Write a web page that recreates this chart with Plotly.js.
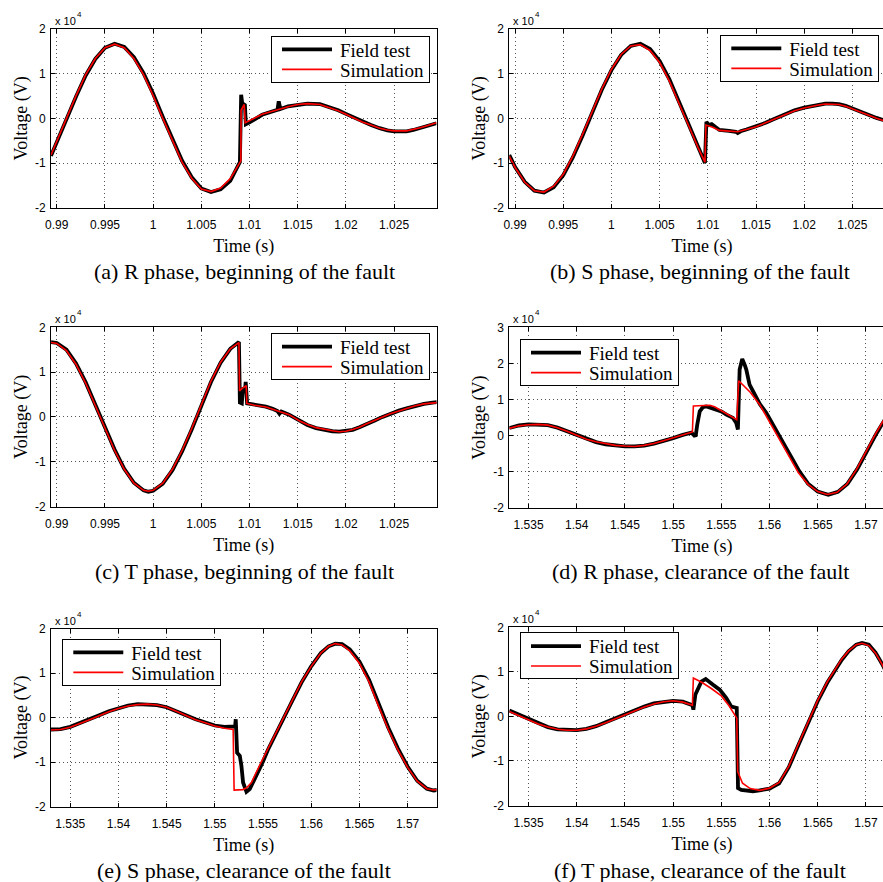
<!DOCTYPE html>
<html>
<head>
<meta charset="utf-8">
<script src="https://cdn.plot.ly/plotly-3.0.1.min.js"></script>
<style>
html, body { margin: 0; padding: 0; overflow: hidden; background: #fff; }
#chart { width: 900px; height: 882px; }
</style>
</head>
<body>
<div id="chart"></div>
<script>
// ---------------- DATA (time in s, voltage in V) ----------------
// (a) R phase, beginning of the fault
const timeFieldA = [0.9894,0.990,0.991,0.992,0.993,0.994,0.995,0.996,0.997,0.998,0.999,1.000,1.001,1.002,1.003,1.004,1.005,1.006,1.007,1.008,
  1.0090,1.00913,1.0093,1.00945,1.00952,1.00962,1.0100,1.0113,1.0122,1.0129,1.01303,1.0132,1.0140,1.0150,1.0160,1.0173,1.0183,1.0192,1.0200,1.0208,1.0217,1.0226,1.0235,1.0243,1.0250,1.0263,1.0270,1.0277,1.0285,1.0294];
const voltFieldA = [-8400,-5300,-300,4900,9600,13300,15800,16700,16000,13700,10100,5500,300,-4800,-9500,-13200,-15700,-16500,-15900,-14000,
  -9800,5300,2300,3100,3000,-1300,-900,800,1500,1900,3800,2100,2700,3100,3300,3200,2500,1800,1000,200,-700,-1500,-2200,-2700,-2900,-2900,-2600,-2100,-1600,-1100];
const timeSimA = [0.9894,0.990,0.991,0.992,0.993,0.994,0.995,0.996,0.997,0.998,0.999,1.000,1.001,1.002,1.003,1.004,1.005,1.006,1.007,1.008,
  1.0091,1.00912,1.00945,1.00955,1.0100,1.0113,1.0122,1.0131,1.0140,1.0150,1.0160,1.0173,1.0183,1.0192,1.0200,1.0208,1.0217,1.0226,1.0235,1.0243,1.0250,1.0263,1.0270,1.0277,1.0285,1.0294];
const voltSimA = [-8200,-5100,0,5100,9800,13400,15800,16600,15800,13400,9800,5100,0,-5100,-9800,-13400,-15800,-16400,-15600,-13500,
  -9500,1800,3100,-1000,-500,900,1500,2100,2600,3100,3300,3100,2400,1700,900,100,-800,-1500,-2200,-2600,-2800,-2800,-2500,-2100,-1600,-1000];

// (b) S phase, beginning of the fault
const timeFieldB = [0.9894,0.990,0.991,0.992,0.993,0.994,0.995,0.996,0.997,0.998,0.999,1.000,1.001,1.002,1.003,1.004,1.005,1.006,1.007,1.008,1.009,1.0097,
  1.00985,1.0101,1.0104,1.0108,1.0112,1.0122,1.0129,1.0131,1.0134,1.0140,1.0150,1.0160,1.0167,1.0174,1.0181,1.0190,1.0200,1.0208,1.0215,1.0222,1.0229,1.0236,1.0243,1.0250,1.0257,1.0263,1.0269,1.0275,1.0281,1.0294];
const voltFieldB = [-8200,-10900,-14200,-16200,-16600,-15400,-12700,-8700,-3900,1300,6400,10800,14200,16200,16700,15500,12800,8800,4000,-1300,-6400,-10000,
  -800,-1500,-1300,-2000,-2600,-2800,-3000,-3300,-2900,-2500,-1800,-1000,-300,300,1000,1800,2400,2800,3100,3300,3300,3200,2800,2200,1500,1000,600,100,-300,-1100];
const timeSimB = [0.9894,0.990,0.991,0.992,0.993,0.994,0.995,0.996,0.997,0.998,0.999,1.000,1.001,1.002,1.003,1.004,1.005,1.006,1.007,1.008,1.009,1.0097,
  1.0098,1.0105,1.0112,1.0122,1.0131,1.0140,1.0150,1.0160,1.0167,1.0174,1.0181,1.0190,1.0200,1.0208,1.0215,1.0222,1.0229,1.0236,1.0243,1.0250,1.0257,1.0263,1.0269,1.0275,1.0281,1.0294];
const voltSimB = [-8500,-11000,-14300,-16200,-16500,-15200,-12500,-8400,-3600,1600,6600,11000,14300,16200,16500,15200,12500,8400,3600,-1600,-6600,-9800,
  -1500,-2000,-2700,-2900,-3000,-2500,-1900,-1000,-400,300,900,1700,2300,2700,3000,3200,3200,3100,2700,2100,1400,900,500,0,-400,-1200];

// (c) T phase, beginning of the fault
const timeFieldC = [0.9894,0.990,0.991,0.992,0.993,0.994,0.995,0.996,0.997,0.998,0.999,0.9995,1.000,1.001,1.002,1.003,1.004,1.005,1.006,1.007,1.008,1.0089,
  1.0090,1.0092,1.0093,1.00955,1.0096,1.00975,1.0100,1.0105,1.0117,1.0124,1.0129,1.0131,1.0133,1.0141,1.0152,1.0160,1.0169,1.0177,1.0186,1.0193,1.0200,1.0207,1.0214,1.0221,1.0230,1.0238,1.0246,1.0255,1.0263,1.0272,1.0281,1.0290,1.0295];
const voltFieldC = [16700,16500,15000,11900,7700,2800,-2400,-7300,-11600,-14700,-16400,-16700,-16500,-14900,-11900,-7700,-2800,2400,7800,12100,15200,16700,
  3200,3000,6200,6500,7800,3000,2900,2700,2300,1800,1300,700,1200,500,-900,-1800,-2500,-2900,-3200,-3300,-3200,-2900,-2300,-1700,-800,0,700,1400,1900,2500,2900,3200,3300];
const timeSimC = [0.9894,0.990,0.991,0.992,0.993,0.994,0.995,0.996,0.997,0.998,0.999,0.9995,1.000,1.001,1.002,1.003,1.004,1.005,1.006,1.007,1.008,1.0089,
  1.00897,1.0092,1.00966,1.00972,1.0105,1.0117,1.0124,1.0131,1.0141,1.0152,1.0160,1.0169,1.0177,1.0186,1.0193,1.0200,1.0207,1.0214,1.0221,1.0230,1.0238,1.0246,1.0255,1.0263,1.0272,1.0281,1.0290,1.0295];
const voltSimC = [16600,16400,14800,11700,7500,2600,-2600,-7500,-11700,-14800,-16400,-16600,-16400,-14800,-11700,-7500,-2600,2600,8000,12200,15200,16600,
  5800,6300,7000,3000,2600,2200,1700,1200,500,-900,-1700,-2400,-2800,-3100,-3300,-3200,-2800,-2300,-1600,-800,0,700,1300,1900,2500,2900,3200,3200];

// (d) R phase, clearance of the fault
const timeFieldD = [1.5330,1.5340,1.5350,1.5360,1.5370,1.5380,1.5390,1.5400,1.5410,1.5420,1.5430,1.5440,1.5450,1.5460,1.5470,1.5480,1.5490,1.5500,1.5510,1.5519,
  1.5522,1.55235,1.5525,1.55276,1.5531,1.55345,1.5540,1.55448,1.5550,1.55552,1.5559,1.55621,1.55655,1.55672,1.5569,1.55717,1.55741,1.55759,1.55793,1.5585,1.5590,1.55966,1.5605,1.56138,1.5620,1.5631,
  1.5640,1.5650,1.5661,1.5671,1.5681,1.5691,1.5701,1.5711,1.5721,1.5731];
const voltFieldD = [2100,2800,3100,3100,2900,2200,1200,0,-1000,-1800,-2400,-2800,-3000,-3000,-2800,-2200,-1500,-700,200,800,
  0,100,3000,6700,7900,8100,7600,7200,6700,5800,5200,4900,3500,1700,18300,21200,19700,18300,14100,11000,8700,6300,2500,-1600,-4700,-9900,
  -13300,-15500,-16400,-15600,-13300,-9300,-4300,600,5000,9000];
const timeSimD = [1.5330,1.5340,1.5350,1.5360,1.5370,1.5380,1.5390,1.5400,1.5410,1.5420,1.5430,1.5440,1.5450,1.5460,1.5470,1.5480,1.5490,1.5500,1.5510,1.5520,
  1.5521,1.5530,1.5538,1.5543,1.5550,1.5558,1.5566,1.5568,1.5572,1.5580,1.5590,1.5600,1.5610,1.5620,1.5630,1.5640,1.5650,1.5660,1.5670,1.5680,1.5690,1.5700,1.5710,1.5720,1.5730];
const voltSimD = [2000,2700,3000,3100,2900,2200,1200,0,-1000,-1700,-2300,-2700,-2900,-3000,-2700,-2200,-1400,-600,300,1000,
  8200,8400,8400,8000,6900,5600,4400,15200,14200,12000,8500,3800,-800,-5500,-10300,-13500,-15500,-16300,-15700,-13500,-9500,-4500,500,5000,9000];

// (e) S phase, clearance of the fault
const timeFieldE = [1.5330,1.5340,1.5350,1.5360,1.5370,1.5380,1.5390,1.5400,1.5410,1.5420,1.5430,1.5440,1.5450,1.5460,1.5470,1.5480,1.5490,1.5500,1.5510,1.5519,
  1.5521,1.55217,1.55231,1.55259,1.55276,1.55293,1.55328,1.55362,1.55431,
  1.5550,1.5555,1.5563,1.5571,1.5580,1.5590,1.5600,1.5610,1.5618,1.5625,1.5632,1.5640,1.5650,1.5660,1.5670,1.5680,1.5690,1.5700,1.5710,1.5720,1.5727,1.5737];
const voltFieldE = [-2700,-2600,-2100,-1300,-400,500,1400,2100,2700,3000,3000,2800,2300,1500,500,-400,-1100,-1800,-2100,-2100,
  -2000,-400,-7900,-8600,-10900,-14600,-16700,-16100,-13100,
  -9900,-7300,-3700,-300,3600,7900,11500,14500,16000,16600,16500,15300,12600,8500,3000,-2300,-7000,-11000,-14200,-16000,-16400,-16100];
const timeSimE = [1.5330,1.5340,1.5350,1.5360,1.5370,1.5380,1.5390,1.5400,1.5410,1.5420,1.5430,1.5440,1.5450,1.5460,1.5470,1.5480,1.5490,1.5500,1.5510,1.5519,
  1.5520,1.5529,1.5533,1.5538,1.5547,1.5555,1.5563,1.5571,1.5580,1.5590,1.5600,1.5610,1.5618,1.5625,1.5632,1.5640,1.5650,1.5660,1.5670,1.5680,1.5690,1.5700,1.5710,1.5720,1.5727,1.5737];
const voltSimE = [-2800,-2700,-2200,-1400,-500,400,1300,2000,2600,2900,3000,2800,2300,1400,400,-500,-1200,-1900,-2400,-2700,
  -16300,-16200,-15800,-14600,-10500,-7100,-3600,-200,3700,8000,11500,14500,16000,16600,16300,15000,12200,8000,2500,-2700,-7300,-11200,-14300,-16000,-16300,-16000];

// (f) T phase, clearance of the fault
const timeFieldF = [1.5330,1.5340,1.5350,1.5360,1.5370,1.5380,1.5390,1.5400,1.5410,1.5420,1.5430,1.5440,1.5450,1.5460,1.5470,1.5480,1.5490,1.5500,1.5510,1.5520,
  1.5521,1.55231,1.55293,1.55338,1.55414,1.55483,1.55552,1.55604,1.5566,1.55673,1.55707,1.55759,1.55828,1.55897,
  1.5600,1.5610,1.5620,1.5630,1.5640,1.5650,1.5660,1.5667,1.5675,1.5682,1.5690,1.5696,1.5703,1.5710,1.5717,1.5730];
const voltFieldF = [1300,400,-700,-1600,-2400,-2900,-3100,-3100,-2800,-2200,-1300,-400,500,1400,2200,2900,3300,3500,3300,2500,
  1500,4900,7800,8400,7100,6000,4100,2200,1900,-16100,-16500,-16600,-16800,-16600,
  -16200,-15000,-11400,-6400,-1400,3400,7600,10000,12700,14600,16100,16500,16100,14300,11700,6000];
const timeSimF = [1.5330,1.5340,1.5350,1.5360,1.5370,1.5380,1.5390,1.5400,1.5410,1.5420,1.5430,1.5440,1.5450,1.5460,1.5470,1.5480,1.5490,1.5500,1.5510,1.5520,
  1.5521,1.5530,1.5540,1.5550,1.5558,1.5566,1.5567,1.5572,1.5580,1.5590,1.5600,1.5610,1.5620,1.5630,
  1.5640,1.5650,1.5660,1.5667,1.5675,1.5682,1.5690,1.5696,1.5703,1.5710,1.5717,1.5730];
const voltSimF = [1100,200,-800,-1700,-2400,-2900,-3100,-3100,-2800,-2200,-1400,-500,400,1300,2100,2800,3300,3500,3200,2500,
  8600,7600,6200,4600,2400,-400,-12400,-15000,-16200,-16600,-16100,-14800,-11200,-6200,
  -1200,3600,7800,10200,12900,14700,16100,16400,15900,14200,11600,5800];

// tick labels
const timeTicksBegin = [0.99, 0.995, 1, 1.005, 1.01, 1.015, 1.02, 1.025];
const timeLabelsBegin = ['0.99', '0.995', '1', '1.005', '1.01', '1.015', '1.02', '1.025'];
const timeTicksClear = [1.535, 1.54, 1.545, 1.55, 1.555, 1.56, 1.565, 1.57];
const timeLabelsClear = ['1.535', '1.54', '1.545', '1.55', '1.555', '1.56', '1.565', '1.57'];
const voltTicks = [-20000, -10000, 0, 10000, 20000];
const voltLabels = ['-2', '-1', '0', '1', '2'];
const voltTicksD = [-20000, -10000, 0, 10000, 20000, 30000];
const voltLabelsD = ['-2', '-1', '0', '1', '2', '3'];
const seriesNames = ['Field test', 'Simulation'];
const scaleBase = 'x 10';
const scaleExponent = '4';
const captions = ['(a) R phase, beginning of the fault', '(b) S phase, beginning of the fault',
  '(c) T phase, beginning of the fault', '(d) R phase, clearance of the fault',
  '(e) S phase, clearance of the fault', '(f) T phase, clearance of the fault'];

// ---------------- LAYOUT ----------------
const W = 900, H = 882;
const SERIF = 'Liberation Serif';
const SANS = 'Liberation Sans';

const panels = [
  {tf: timeFieldA, vf: voltFieldA, ts: timeSimA, vs: voltSimA, xr: [0.9894, 1.0294], yr: [-20000, 20000], tv: timeTicksBegin, tt: timeLabelsBegin, yv: voltTicks, yt: voltLabels,
   px: [51, 436.5], py: [29, 207.7], leg: {x: 430, y: 35.5, xa: 'right'}, cap: [244, 271]},
  {tf: timeFieldB, vf: voltFieldB, ts: timeSimB, vs: voltSimB, xr: [0.9894, 1.0294], yr: [-20000, 20000], tv: timeTicksBegin, tt: timeLabelsBegin, yv: voltTicks, yt: voltLabels,
   px: [509.3, 894.8], py: [29, 207.7], leg: {x: 720.3, y: 34.5, xa: 'left'}, cap: [700, 271]},
  {tf: timeFieldC, vf: voltFieldC, ts: timeSimC, vs: voltSimC, xr: [0.9894, 1.0294], yr: [-20000, 20000], tv: timeTicksBegin, tt: timeLabelsBegin, yv: voltTicks, yt: voltLabels,
   px: [51, 436.5], py: [327.3, 506.5], leg: {x: 430, y: 332.8, xa: 'right'}, cap: [244, 571]},
  {tf: timeFieldD, vf: voltFieldD, ts: timeSimD, vs: voltSimD, xr: [1.533, 1.573], yr: [-20000, 30000], tv: timeTicksClear, tt: timeLabelsClear, yv: voltTicksD, yt: voltLabelsD,
   px: [509.3, 894.8], py: [327.3, 507.8], leg: {x: 520, y: 338.8, xa: 'left'}, cap: [700, 571]},
  {tf: timeFieldE, vf: voltFieldE, ts: timeSimE, vs: voltSimE, xr: [1.533, 1.573], yr: [-20000, 20000], tv: timeTicksClear, tt: timeLabelsClear, yv: voltTicks, yt: voltLabels,
   px: [51, 436.5], py: [628.5, 806.5], leg: {x: 62.3, y: 638.5, xa: 'left'}, cap: [244, 870]},
  {tf: timeFieldF, vf: voltFieldF, ts: timeSimF, vs: voltSimF, xr: [1.533, 1.573], yr: [-20000, 20000], tv: timeTicksClear, tt: timeLabelsClear, yv: voltTicks, yt: voltLabels,
   px: [509.3, 894.8], py: [627.3, 805.5], leg: {x: 520, y: 632.2, xa: 'left'}, cap: [700, 870]}
];

const traces = [];
const layout = {
  width: W, height: H,
  margin: {l: 0, r: 0, t: 0, b: 0},
  paper_bgcolor: '#fff', plot_bgcolor: '#fff',
  hovermode: false,
  annotations: [],
  font: {family: SERIF, size: 18, color: '#000'}
};

panels.forEach((p, i) => {
  const n = i + 1;
  const sfx = n === 1 ? '' : String(n);
  const legName = 'legend' + sfx;
  traces.push({
    type: 'scatter', mode: 'lines', x: p.tf, y: p.vf, name: seriesNames[0],
    xaxis: 'x' + sfx, yaxis: 'y' + sfx, legend: legName,
    line: {color: '#000', width: 3.8}
  });
  traces.push({
    type: 'scatter', mode: 'lines', x: p.ts, y: p.vs, name: seriesNames[1],
    xaxis: 'x' + sfx, yaxis: 'y' + sfx, legend: legName,
    line: {color: '#ff0000', width: 1.6}
  });
  const common = {
    showline: true, linecolor: '#000', linewidth: 1, mirror: 'ticks',
    ticks: 'inside', ticklen: 4, tickcolor: '#000', tickwidth: 1,
    showgrid: true, gridcolor: '#555', griddash: '1px,3px', gridwidth: 1,
    zeroline: false, tickfont: {family: SANS, size: 12, color: '#000'},
    fixedrange: true
  };
  layout['xaxis' + sfx] = Object.assign({}, common, {
    domain: [p.px[0] / W, p.px[1] / W], anchor: 'y' + sfx,
    range: p.xr, tickmode: 'array', tickvals: p.tv, ticktext: p.tt,
    ticklabelstandoff: 6,
    title: {text: 'Time (s)', font: {family: SERIF, size: 18, color: '#000'}, standoff: 8}
  });
  layout['yaxis' + sfx] = Object.assign({}, common, {
    domain: [1 - p.py[1] / H, 1 - p.py[0] / H], anchor: 'x' + sfx,
    range: p.yr, tickmode: 'array', tickvals: p.yv, ticktext: p.yt,
    ticklabelstandoff: 2,
    title: {text: 'Voltage (V)', font: {family: SERIF, size: 18, color: '#000'}, standoff: 2}
  });
  layout[legName] = {
    x: p.leg.x / W, y: 1 - p.leg.y / H, xanchor: p.leg.xa, yanchor: 'top',
    xref: 'paper', yref: 'paper',
    bgcolor: '#fff', bordercolor: '#000', borderwidth: 1,
    font: {family: SERIF, size: 19, color: '#000'},
    itemwidth: 58,
    tracegroupgap: 0
  };
  layout.annotations.push({
    text: scaleBase, showarrow: false,
    xref: 'x' + sfx + ' domain', yref: 'y' + sfx + ' domain', x: 0, y: 1,
    xanchor: 'left', yanchor: 'bottom', xshift: 3, yshift: 1, borderpad: 0,
    font: {family: SANS, size: 11, color: '#000'}
  });
  layout.annotations.push({
    text: scaleExponent, showarrow: false,
    xref: 'x' + sfx + ' domain', yref: 'y' + sfx + ' domain', x: 0, y: 1,
    xanchor: 'left', yanchor: 'bottom', xshift: 25, yshift: 9, borderpad: 0,
    font: {family: SANS, size: 8, color: '#000'}
  });
  layout.annotations.push({
    text: captions[i], showarrow: false,
    xref: 'paper', yref: 'paper', x: p.cap[0] / W, y: 1 - p.cap[1] / H,
    xanchor: 'center', yanchor: 'middle',
    font: {family: SERIF, size: 22, color: '#000'}
  });
});

Plotly.newPlot('chart', traces, layout, {displayModeBar: false, staticPlot: true}).then(function (gd) {
  try {
    // longer legend line samples and tighter rows, as in the original figure
    gd.querySelectorAll('.legendlines path').forEach(function (el) { el.setAttribute('d', 'M10,0h50'); });
    gd.querySelectorAll('.infolayer > g').forEach(function (g) {
      if (!/^legend\d*$/.test(g.getAttribute('class') || '')) return;
      var items = g.querySelectorAll('g.traces');
      if (items.length !== 2) return;
      var m = /translate\(\s*([-\d.e]+)[ ,]+([-\d.e]+)\s*\)/.exec(items[0].getAttribute('transform') || '');
      if (!m) return;
      var x0 = parseFloat(m[1]), y0 = parseFloat(m[2]);
      items[0].setAttribute('transform', 'translate(' + x0 + ',' + (y0 - 6) + ')');
      items[1].setAttribute('transform', 'translate(' + x0 + ',' + (y0 + 14) + ')');
      var bg = g.querySelector('rect.bg');
      if (bg) bg.setAttribute('height', 46);
    });
  } catch (e) {}
});
</script>
</body>
</html>
